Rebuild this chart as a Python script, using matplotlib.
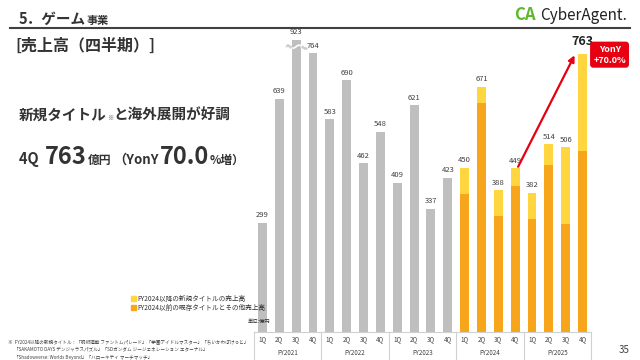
import numpy as np
import matplotlib.pyplot as plt
from matplotlib.transforms import IdentityTransform

plt.rcParams['font.family'] = ['Noto Sans CJK JP', 'DejaVu Sans']

years = ['FY2021', 'FY2022', 'FY2023', 'FY2024', 'FY2025']
quarters = ['1Q', '2Q', '3Q', '4Q']
total = [299, 639, 923, 764,
         583, 690, 462, 548,
         409, 621, 337, 423,
         450, 671, 388, 449,
         382, 514, 506, 763]
# FY2024- : sales of titles existing before FY2024 (orange part)
existing = [378, 627, 319, 401, 310, 458, 295, 496]
cap = 800  # 923 bar is drawn with a break

GRAY = '#BFBFBF'
ORANGE = '#F7A61B'
YELLOW = '#FFD640'
RED = '#E60012'
DARK = '#333333'

fig = plt.figure(figsize=(6.4, 3.6), dpi=100)
PX = IdentityTransform()


def px(y):
    return 360 - y


# bar axes: x 254..591 px, y 20..332 px (from top)
ax = fig.add_axes([254 / 640, 28 / 360, 337 / 640, 312 / 360])
ax.set_xlim(-0.5, 19.5)
ax.set_ylim(0, 855)
ax.axis('off')

n_old = len(total) - len(existing)
x = np.arange(len(total))
w = 0.53
shown = [min(v, cap) for v in total]
ax.bar(x[:n_old], shown[:n_old], w, color=GRAY)
ax.bar(x[n_old:], existing, w, color=ORANGE)
ax.bar(x[n_old:], np.array(total[n_old:]) - np.array(existing), w,
       bottom=existing, color=YELLOW)

for i, v in enumerate(total):
    if i == len(total) - 1:
        ax.text(i, shown[i] + 14, str(v), ha='center', va='bottom',
                fontsize=9, fontweight='bold', color='#222222')
    else:
        ax.text(i, shown[i] + 10, str(v), ha='center', va='bottom',
                fontsize=5.5, color='#404040')

# break marker on the 923 bar
bi = total.index(923)
xs = np.linspace(bi - 0.6, bi + 0.6, 40)
ys = 782 + 4 * np.sin((xs - bi) * 9)
ax.plot(xs, ys, color='white', lw=1.2, zorder=3)
ax.plot(xs[np.abs(xs - bi) > 0.3], ys[np.abs(xs - bi) > 0.3], '.',
        color='#CCCCCC', ms=0.8, zorder=4)

# YonY arrow
ax.annotate('', xy=(18.6, 765), xytext=(15.1, 446),
            arrowprops=dict(arrowstyle='-|>', color=RED, lw=1.6,
                            mutation_scale=9))
ax.text(20.6, 760, 'YonY\n+70.0%', ha='center', va='center', fontsize=6.5,
        fontweight='bold', color='white', linespacing=1.25, clip_on=False,
        bbox=dict(boxstyle='round,pad=0.35', fc=RED, ec='none'))

# category table under bars
tr = ax.get_xaxis_transform()
ax.plot([-0.5, 19.5], [0, 0], transform=tr, color='#D0D0D0', lw=0.8,
        clip_on=False)
for k in range(len(years) + 1):
    xv = -0.5 + 4 * k
    ax.plot([xv, xv], [0, -0.085], transform=tr, color='#D0D0D0', lw=0.8,
            clip_on=False)
for i in range(len(total)):
    ax.text(i, -0.024, quarters[i % 4], transform=tr, ha='center',
            va='center', fontsize=4.5, color='#404040')
for k, yname in enumerate(years):
    ax.text(4 * k + 1.5, -0.066, yname, transform=tr, ha='center',
            va='center', fontsize=4.5, color='#404040')


def seq_text(x0, y0, parts, color=DARK):
    r = fig.canvas.get_renderer()
    xc = x0
    for s, size, gap in parts:
        t = fig.text(xc, px(y0), s, fontsize=size, fontweight='bold',
                     color=color, va='baseline', transform=PX)
        bb = t.get_window_extent(r)
        xc = bb.x1 + gap


# header
seq_text(19, 24, [('5．ゲーム', 10.5, 0), ('事業', 8, 0)])
fig.add_artist(plt.Line2D([10, 630], [px(28), px(28)], transform=PX,
                          color='#404040', lw=1.5))
fig.text(15, px(46), '[売上高（四半期）]', fontsize=11.5, fontweight='bold',
         color=DARK, va='center', transform=PX)
seq_text(19, 120, [('新規タイトル', 10.5, 0), ('※', 4.5, 0),
                   ('と海外展開が好調', 10.5, 0)])
seq_text(19, 164, [('4Q ', 10.5, 3), ('763', 17, 1), ('億円', 8.5, 2),
                   ('（YonY', 9.5, 1), ('70.0', 17, 1), ('%増）', 8.5, 0)])

# logo
fig.text(514, px(15), 'CA', fontsize=12, fontweight='bold', color='#5DB82E',
         va='center', transform=PX)
fig.text(540, px(15), 'CyberAgent.', fontsize=11, color='#222222',
         va='center', transform=PX)

# legend
fig.add_artist(plt.Rectangle((131, px(301)), 5, 5, color=YELLOW,
                             transform=PX))
fig.add_artist(plt.Rectangle((131, px(310)), 5, 5, color=ORANGE,
                             transform=PX))
fig.text(137, px(299), 'FY2024以降の新規タイトルの売上高', fontsize=4.8,
         color=DARK, va='center', transform=PX)
fig.text(137, px(308), 'FY2024以前の既存タイトルとその他売上高', fontsize=4.8,
         color=DARK, va='center', transform=PX)
fig.text(248, px(321), '単位:億円', fontsize=3.8, color=DARK, va='center',
         transform=PX)

# footnote
notes = ['※  FY2024以降の新規タイトル：「呪術廻戦 ファントムパレード」「学園アイドルマスター」「ちいかわぽけっと」',
         '      「SAKAMOTO DAYS デンジャラスパズル」「SDガンダム ジージェネレーション エターナル」',
         '      「Shadowverse: Worlds Beyond」「ハローキティ マーチマッチ」']
for j, line in enumerate(notes):
    fig.text(8, px(342 + 7.5 * j), line, fontsize=3.3, color='#404040',
             va='center', transform=PX)

fig.text(630, px(350), '35', fontsize=7, color='#404040', ha='right',
         va='center', transform=PX)

fig.savefig('out.png', dpi=100)
